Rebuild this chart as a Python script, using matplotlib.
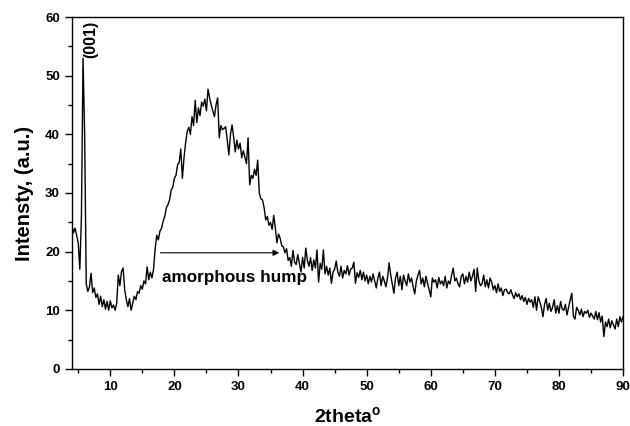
import numpy as np
import matplotlib
matplotlib.use("Agg")
import matplotlib.pyplot as plt
from matplotlib.ticker import MultipleLocator

plt.rcParams['font.family'] = ['Liberation Sans', 'DejaVu Sans']
plt.rcParams['font.weight'] = 'bold'

# 2theta grid, 0.25 deg steps from 4 to 90
two_theta = np.arange(4.0, 90.001, 0.25)

intensity = [
    24.5, 23.2, 24.0, 22.8,   # 4
    21.5, 17.0, 26.0, 53.0,   # 5
    40.0, 14.5, 13.2, 14.0,   # 6
    16.3, 13.0, 13.8, 12.2,   # 7
    12.8, 11.0, 12.4, 10.6,   # 8
    11.8, 10.2, 11.5, 10.0,   # 9
    11.6, 10.4, 10.9, 10.0,   # 10
    11.2, 16.0, 14.2, 16.6,   # 11
    17.2, 13.5, 11.8, 10.6,   # 12
    12.0, 10.0, 11.2, 12.4,   # 13
    11.8, 13.2, 12.9, 14.2,   # 14
    13.6, 15.0, 14.5, 17.4,   # 15
    15.2, 16.5, 15.5, 17.0,   # 16
    20.5, 22.8, 22.0, 23.5,   # 17
    24.0, 25.2, 26.0, 27.5,   # 18
    28.0, 28.8, 30.5, 31.0,   # 19
    32.5, 33.0, 34.8, 35.2,   # 20
    37.5, 32.5, 36.0, 38.5,   # 21
    40.5, 41.2, 40.0, 43.0,   # 22
    41.5, 45.8, 42.0, 44.5,   # 23
    43.2, 45.5, 44.8, 46.0,   # 24
    44.0, 47.7, 46.2, 45.0,   # 25
    44.0, 43.0, 45.0, 46.2,   # 26
    39.4, 41.5, 40.8, 41.0,   # 27
    41.3, 39.0, 36.5, 40.0,   # 28
    41.6, 39.5, 37.0, 39.0,   # 29
    37.5, 38.5, 36.0, 37.2,   # 30
    36.1, 35.0, 39.4, 31.4,   # 31
    33.0, 32.5, 34.0, 33.0,   # 32
    35.6, 30.0, 29.0, 28.8,   # 33
    27.5, 25.4, 26.0, 24.5,   # 34
    25.0, 23.8, 26.2, 24.0,   # 35
    21.5, 23.0, 22.3, 21.0,   # 36
    20.8, 19.8, 20.5, 18.5,   # 37
    19.0, 17.5, 20.2, 18.2,   # 38
    17.8, 19.5, 18.0, 16.5,   # 39
    19.0, 17.2, 20.6, 18.5,   # 40
    17.5, 19.0, 16.8, 18.6,   # 41
    17.2, 20.3, 14.8, 18.0,   # 42
    17.0, 20.3, 16.2, 17.5,   # 43
    16.0, 17.2, 14.6, 16.5,   # 44
    17.0, 18.4, 16.5, 15.8,   # 45
    17.5, 15.5, 16.8, 16.2,   # 46
    17.6, 16.0, 17.0, 17.2,   # 47
    18.2, 14.6, 16.4, 15.6,   # 48
    16.8, 15.2, 16.5, 15.0,   # 49
    16.0, 14.5, 15.8, 14.8,   # 50
    16.2, 15.0, 13.8, 15.5,   # 51
    16.5, 14.2, 15.8, 15.0,   # 52
    14.0, 15.5, 18.1, 16.0,   # 53
    14.5, 12.9, 15.5, 16.5,   # 54
    14.2, 15.8, 13.5, 16.0,   # 55
    15.0, 14.2, 16.2, 14.8,   # 56
    15.5, 14.0, 12.8, 15.0,   # 57
    16.0, 16.8, 14.5, 15.5,   # 58
    14.0, 15.8, 14.6, 13.5,   # 59
    12.3, 15.5, 14.8, 15.2,   # 60
    13.8, 15.6, 14.5, 15.0,   # 61
    14.2, 15.8, 13.8, 15.0,   # 62
    14.5, 16.0, 17.2, 15.0,   # 63
    15.5, 14.5, 14.0, 15.8,   # 64
    16.2, 14.5, 15.8, 14.8,   # 65
    16.5, 15.0, 15.8, 17.0,   # 66
    13.2, 17.2, 15.0, 14.2,   # 67
    14.5, 16.0, 14.0, 15.2,   # 68
    13.8, 15.5, 14.8, 13.5,   # 69
    14.2, 13.0, 14.5, 13.2,   # 70
    13.8, 12.5, 13.5, 13.6,   # 71
    13.0, 12.8, 13.5, 12.6,   # 72
    12.0, 13.0, 12.3, 12.8,   # 73
    11.8, 12.5, 11.5, 12.2,   # 74
    11.0, 12.0, 11.4, 11.8,   # 75
    10.5, 12.3, 10.0, 12.3,   # 76
    11.5, 10.5, 8.9, 11.0,    # 77
    12.0, 10.0, 11.2, 9.8,    # 78
    10.5, 11.8, 9.5, 10.8,    # 79
    9.5, 11.5, 10.2, 10.0,    # 80
    11.0, 9.2, 10.5, 11.8,    # 81
    12.9, 9.0, 8.5, 10.5,     # 82
    10.0, 9.2, 10.2, 8.9,     # 83
    9.8, 9.5, 10.0, 8.8,      # 84
    9.5, 9.0, 8.5, 9.8,       # 85
    8.4, 9.6, 8.0, 9.0,       # 86
    5.5, 8.0, 7.2, 8.5,       # 87
    7.0, 8.2, 7.5, 6.8,       # 88
    8.5, 7.2, 8.9, 8.0,       # 89
    8.9,                      # 90
]

fig = plt.figure(figsize=(6.3, 4.26), dpi=100)
ax = fig.add_axes([0.114, 0.134, 0.875, 0.826])

ax.plot(two_theta, intensity, color='k', lw=1.0)

ax.set_xlim(4, 90)
ax.set_ylim(0, 60)
ax.xaxis.set_major_locator(MultipleLocator(10))
ax.xaxis.set_minor_locator(MultipleLocator(5))
ax.yaxis.set_major_locator(MultipleLocator(10))
ax.yaxis.set_minor_locator(MultipleLocator(5))
ax.tick_params(which='both', direction='out', top=False, right=False,
               labelsize=9.5, width=1)
ax.tick_params(which='major', length=5)
ax.tick_params(which='minor', length=3)
for lab in ax.get_xticklabels() + ax.get_yticklabels():
    lab.set_fontweight('bold')
for sp in ax.spines.values():
    sp.set_linewidth(1)

ax.set_xlabel('2theta$^\\mathregular{o}$', fontsize=14, fontweight='bold',
              labelpad=10)
ax.set_ylabel('Intensty, (a.u.)', fontsize=14.5, fontweight='bold', labelpad=8)

ax.text(6.97, 53.0, '(001)', rotation=90, ha='center', va='bottom',
        fontsize=11.5, fontweight='bold')
ax.annotate('', xy=(36.8, 19.8), xytext=(17.4, 19.8),
            arrowprops=dict(arrowstyle='-|>', color='k', lw=0.8,
                            mutation_scale=9))
ax.text(18.0, 14.8, 'amorphous hump', ha='left', va='baseline',
        fontsize=12.3, fontweight='bold')

fig.savefig('out.png', dpi=100)
